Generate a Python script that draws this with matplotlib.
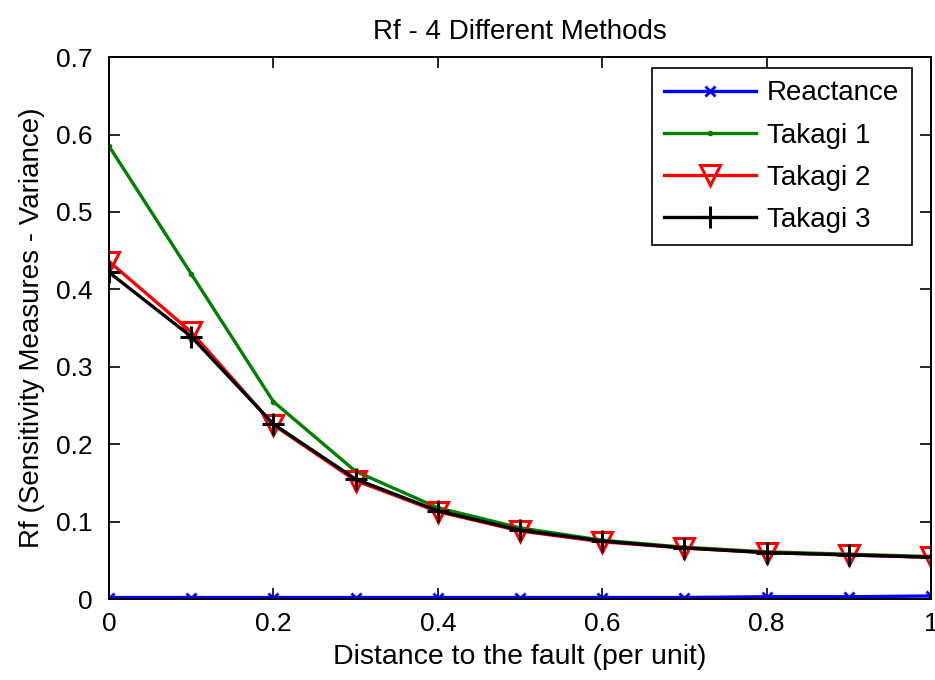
import matplotlib

matplotlib.use("Agg")
import matplotlib.pyplot as plt

# ── Data ──────────────────────────────────────────────────────────────────────
distance = [0.0, 0.1, 0.2, 0.3, 0.4, 0.5, 0.6, 0.7, 0.8, 0.9, 1.0]

reactance = [0.002, 0.002, 0.002, 0.002, 0.002, 0.002, 0.002, 0.002, 0.003, 0.003, 0.004]
takagi_1 = [0.585, 0.420, 0.255, 0.165, 0.118, 0.092, 0.076, 0.067, 0.061, 0.058, 0.055]
takagi_2 = [0.436, 0.345, 0.225, 0.153, 0.113, 0.088, 0.074, 0.066, 0.060, 0.057, 0.054]
takagi_3 = [0.422, 0.339, 0.226, 0.155, 0.114, 0.089, 0.075, 0.066, 0.060, 0.057, 0.054]

x_ticks = [0, 0.2, 0.4, 0.6, 0.8, 1]
x_tick_labels = ["0", "0.2", "0.4", "0.6", "0.8", "1"]
y_ticks = [0, 0.1, 0.2, 0.3, 0.4, 0.5, 0.6, 0.7]
y_tick_labels = ["0", "0.1", "0.2", "0.3", "0.4", "0.5", "0.6", "0.7"]

# ── Figure ────────────────────────────────────────────────────────────────────
plt.rcParams["font.family"] = ["Liberation Sans", "DejaVu Sans"]
FS = 19

fig = plt.figure(figsize=(9.35, 6.8), dpi=100)
ax = fig.add_axes([0.1166, 0.119, 0.879, 0.797])

ax.plot(distance, reactance, color="#0000ff", lw=2.4, marker="x",
        ms=7, mew=2, label="Reactance")
ax.plot(distance, takagi_1, color="#008000", lw=2.4, marker=".",
        ms=6, label="Takagi 1")
ax.plot(distance, takagi_2, color="#ff0000", lw=2.4, marker="v",
        ms=15, mew=2.2, mfc="none", label="Takagi 2")
ax.plot(distance, takagi_3, color="#000000", lw=2.4, marker="+",
        ms=16, mew=2.2, label="Takagi 3")

ax.set_xlim(0, 1)
ax.set_ylim(0, 0.7)
ax.set_xticks(x_ticks)
ax.set_xticklabels(x_tick_labels)
ax.set_yticks(y_ticks)
ax.set_yticklabels(y_tick_labels)
ax.tick_params(direction="in", top=True, right=True, length=8,
               width=1.2, labelsize=FS)
ax.tick_params(axis="x", pad=9)
ax.tick_params(axis="y", pad=12)
for spine in ax.spines.values():
    spine.set_linewidth(1.4)

ax.set_title("Rf - 4 Different Methods", fontsize=FS + 1, pad=13)
ax.set_xlabel("Distance to the fault (per unit)", fontsize=FS + 1.5, labelpad=6)
ax.set_ylabel("Rf (Sensitivity Measures - Variance)", fontsize=FS + 1, labelpad=8)

leg = ax.legend(loc="upper right", bbox_to_anchor=(0.977, 0.980),
                fontsize=FS + 1, fancybox=False, framealpha=1,
                edgecolor="black", borderpad=0.45, handlelength=3.3,
                handletextpad=0.4, labelspacing=0.58, borderaxespad=0)
leg.get_frame().set_linewidth(1.2)

fig.savefig("out.png", dpi=100)
